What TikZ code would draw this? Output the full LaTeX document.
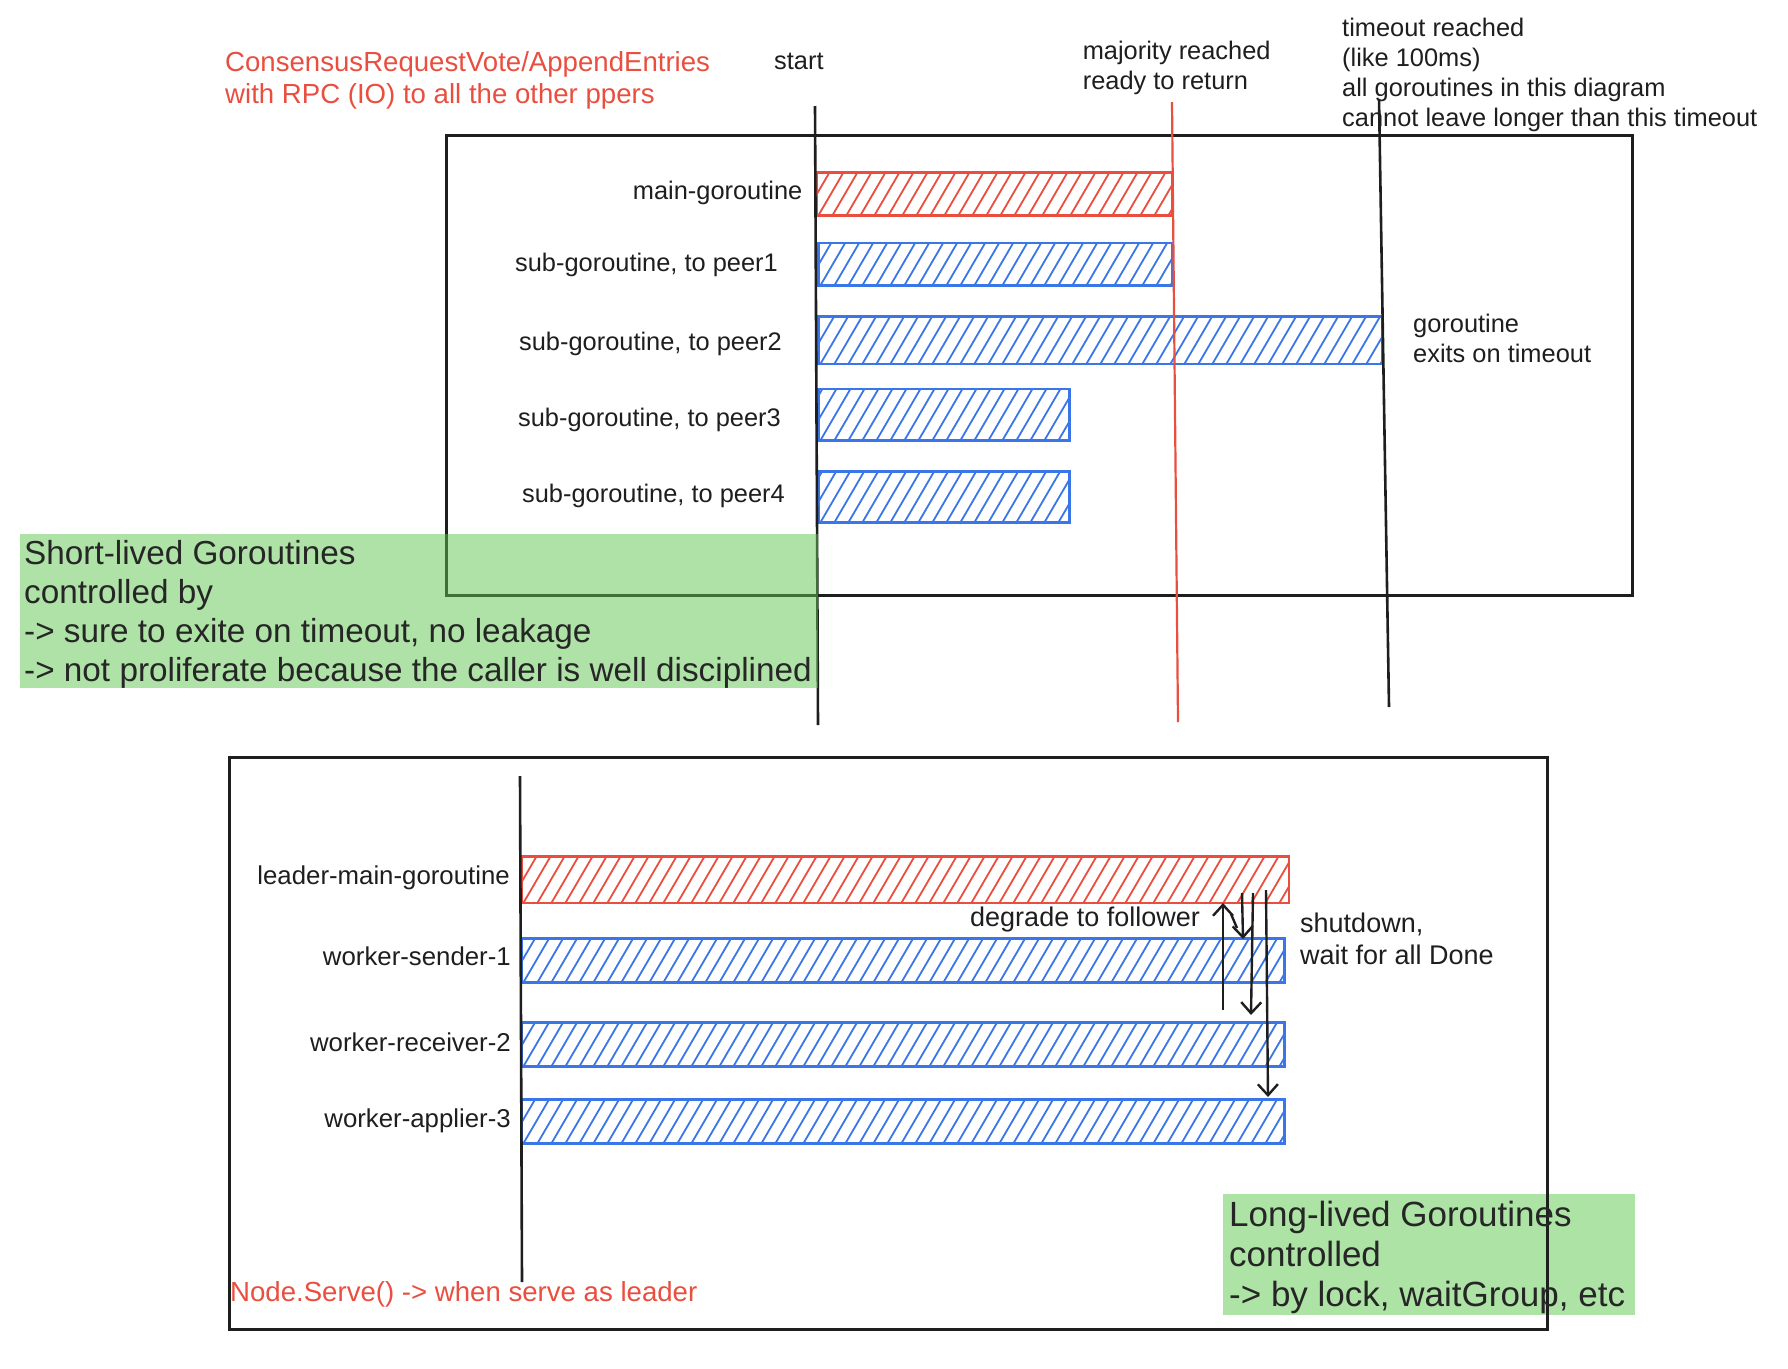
\documentclass[tikz,border=0pt]{standalone}
\usepackage{fontspec}
\setmainfont{Liberation Sans}
\usetikzlibrary{arrows.meta}
\definecolor{myred}{HTML}{E94E3F}
\definecolor{myblue}{HTML}{3A76E8}
\definecolor{greenveil}{RGB}{93,197,77}
\definecolor{greensolid}{RGB}{174,227,166}
\definecolor{ink}{HTML}{1E1E1E}
\begin{document}
\begin{tikzpicture}[x=1pt,y=-1pt,
  lbl/.style={font=\fontsize{25.4}{30}\selectfont, inner sep=0pt, text=ink, align=left},
  lblb/.style={font=\fontsize{25.8}{30}\selectfont, inner sep=0pt, text=ink, align=left},
  notebig/.style={font=\fontsize{27}{32}\selectfont, inner sep=0pt, text=ink, align=left},
  redlbl/.style={font=\fontsize{27.6}{32}\selectfont, inner sep=0pt, text=myred, align=left},
  greentxt/.style={font=\fontsize{33.3}{38.7}\selectfont, inner sep=0pt, text=black!85, align=left},
  greentxtb/.style={font=\fontsize{35}{40}\selectfont, inner sep=0pt, text=black!85, align=left},
  frame/.style={draw=ink, line width=2.8pt, inner sep=0pt, anchor=north west},
  vline/.style={draw=ink, line width=2.6pt},
  hbar/.style={draw=#1, line width=2.8pt, inner sep=0pt, anchor=north west,
    path picture={\foreach \k in {0,...,64}{\draw[#1, line width=1.8pt]
      ([xshift=\k*14pt-40pt]path picture bounding box.south west) -- ++(35pt,60pt);}}},
  arr/.style={draw=ink, line width=2.4pt, -{Straight Barb[length=11pt,width=20pt]}},
]
\useasboundingbox (0,0) rectangle (1788,1368);

% ---------------- top diagram ----------------
\node[frame, minimum width=1186pt, minimum height=460pt] (topbox) at (445,134) {};

\node[hbar=myred,  minimum width=356pt, minimum height=43pt] (main)  at (815,171) {};
\node[hbar=myblue, minimum width=354pt, minimum height=42.5pt] (peer1) at (817,241.5) {};
\node[hbar=myblue, minimum width=564pt, minimum height=47.5pt] (peer2) at (817,315) {};
\node[hbar=myblue, minimum width=251pt, minimum height=51.5pt] (peer3) at (817,387.5) {};
\node[hbar=myblue, minimum width=251pt, minimum height=51pt] (peer4) at (817,470) {};

\coordinate (startT) at (815,106);
\coordinate (startB) at (818,725);
\draw[vline] (startT) -- (startB);
\coordinate (majT) at (1172,102);
\coordinate (majB) at (1178,722);
\draw[draw=myred, line width=2.2pt] (majT) -- (majB);
\coordinate (toT) at (1379,99);
\coordinate (toB) at (1389,707);
\draw[vline] (toT) -- (toB);

\node[lbl, anchor=base east] (lmain)  at (802.5,199) {main-goroutine};
\node[lbl, anchor=base east] (lpeer1) at (778,271) {sub-goroutine, to peer1};
\node[lbl, anchor=base east] (lpeer2) at (782,350) {sub-goroutine, to peer2};
\node[lbl, anchor=base east] (lpeer3) at (781,426) {sub-goroutine, to peer3};
\node[lbl, anchor=base east] (lpeer4) at (785,502) {sub-goroutine, to peer4};

% multi-line nodes: base anchor = baseline of the last line
\node[redlbl, anchor=base west] (rpc) at (225,103.6) {ConsensusRequestVote/AppendEntries\\with RPC (IO) to all the other ppers};
\node[lbl, anchor=base west] (start) at (774,69) {start};
\node[lbl, anchor=base west] (major) at (1082.6,89) {majority reached\\ready to return};
\node[lbl, anchor=base west] (timeout) at (1342,126) {timeout reached\\(like 100ms)\\all goroutines in this diagram\\cannot leave longer than this timeout};
\node[lbl, anchor=base west] (exits) at (1413,362.5) {goroutine\\exits on timeout};

\node[fill=greenveil, fill opacity=0.5, inner sep=0pt, anchor=north west,
      minimum width=798pt, minimum height=153.5pt] (short) at (20,534) {};
\node[greentxt, anchor=base west] (shorttxt) at (24,681) {Short-lived Goroutines\\controlled by\\-> sure to exite on timeout, no leakage\\-> not proliferate because the caller is well disciplined};

% ---------------- bottom diagram ----------------
\node[fill=greensolid, inner sep=0pt, anchor=north west,
      minimum width=412pt, minimum height=121pt] (long) at (1223,1194) {};
\node[frame, minimum width=1318pt, minimum height=572pt] (botbox) at (228,756) {};

\node[hbar=myred,  minimum width=767.5pt, minimum height=46.5pt] (leader)   at (520,855) {};
\node[hbar=myblue, minimum width=763pt, minimum height=44pt] (sender)   at (520,937) {};
\node[hbar=myblue, minimum width=763pt, minimum height=44pt] (receiver) at (520,1021) {};
\node[hbar=myblue, minimum width=763pt, minimum height=44pt] (applier)  at (520,1098) {};

\coordinate (lstartT) at (520,776);
\coordinate (lstartB) at (522,1282);
\draw[vline] (lstartT) -- (lstartB);

\node[lblb, anchor=base east] (lleader)   at (510,884) {leader-main-goroutine};
\node[lblb, anchor=base east] (lsender)   at (511,965) {worker-sender-1};
\node[lblb, anchor=base east] (lreceiver) at (511,1051) {worker-receiver-2};
\node[lblb, anchor=base east] (lapplier)  at (511,1127) {worker-applier-3};

\node[notebig, anchor=base west] (degrade) at (970,926) {degrade to follower};
\node[notebig, anchor=base west] (shutdown) at (1300,964) {shutdown,\\wait for all Done};

\coordinate (upB) at (1223,1010);
\coordinate (upT) at (1223,903);
\draw[arr] (upB) -- (upT);
\coordinate (a2T) at (1242,893);
\coordinate (a2B) at (1243,939);
\draw[arr] (a2T) -- (a2B);
\coordinate (zigA) at (1231,914);
\coordinate (zigB) at (1237,928);
\draw[draw=ink, line width=2.4pt] (zigA) -- (zigB);
\coordinate (a3T) at (1253,893);
\coordinate (a3B) at (1251,1015);
\draw[arr] (a3T) -- (a3B);
\coordinate (a4T) at (1266,890);
\coordinate (a4B) at (1268,1097);
\draw[arr] (a4T) -- (a4B);

\node[redlbl, anchor=base west] (serve) at (230,1301) {Node.Serve() -> when serve as leader};
\node[greentxtb, anchor=base west] (longtxt) at (1229,1306) {Long-lived Goroutines\\controlled\\-> by lock, waitGroup, etc};
\end{tikzpicture}
\end{document}
